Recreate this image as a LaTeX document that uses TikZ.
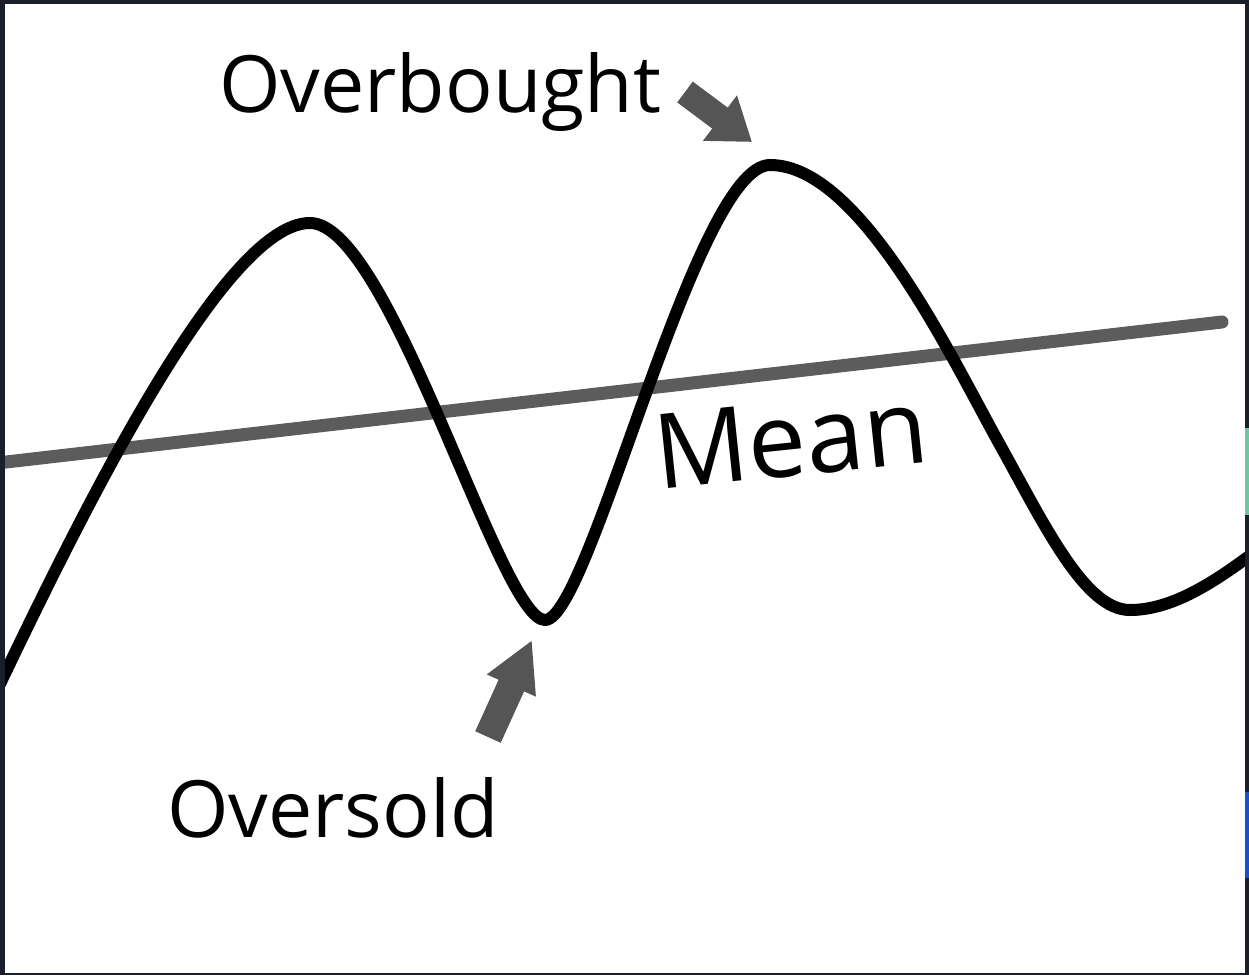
\documentclass[tikz,border=0pt]{standalone}
\usepackage{fontspec}
\setmainfont{Open Sans}
\usetikzlibrary{arrows.meta}
\definecolor{frameD}{RGB}{27,31,43}
\definecolor{meanG}{RGB}{92,92,92}
\definecolor{arrG}{RGB}{85,85,85}
\definecolor{tabG}{RGB}{112,200,160}
\definecolor{tabB}{RGB}{22,82,196}

\begin{document}
\begin{tikzpicture}[x=1pt,y=-1pt,
   lbl/.style={inner sep=0pt,anchor=base west,font=\fontsize{79}{90}\selectfont},
   wave/.style={line width=12pt,line join=round},
   meanl/.style={draw=meanG,line width=13pt,line cap=round},
   blk/.style={draw=arrG,fill=arrG}]
%% ---- frame ----
\fill[frameD] (0,0) rectangle (1249,975);
\useasboundingbox (0,0) rectangle (1249,975);
\fill[white] (5,4) rectangle (1245,973);
\fill[tabG] (1245,428) rectangle (1249,515);
\fill[tabB] (1245,792) rectangle (1249,878);
%% ---- mean line and price curve ----
\begin{scope}
  \clip (5,4) rectangle (1245,973);
  \draw[meanl] (-20,465) -- (1222,322);
  \draw[wave] (-10,705)
    .. controls (85,505) and (225,223) .. (310,223)      % first peak
    .. controls (390,223) and (500,620) .. (545,620)     % oversold trough
    .. controls (590,620) and (695,165) .. (770,165)     % overbought peak
    .. controls (860,165) and (950,355) .. (1000,445)
    .. controls (1045,526) and (1085,610) .. (1130,610)  % second trough
    .. controls (1175,610) and (1220,578) .. (1260,548);
\end{scope}
%% ---- labels ----
\node[lbl] (ob) at (219,112) {Overbought};
\node[lbl] (os) at (167,837) {Oversold};
\node[lbl,rotate=6,font=\fontsize{104}{110}\selectfont] (mn) at (658,490) {Mean};
%% ---- pointer arrows ----
\coordinate (obtail) at (685,92);
\coordinate (obtip) at (752,142);
\coordinate (ostail) at (488,737);
\coordinate (ostip) at (532,640);
\draw[blk,line width=26pt,-{Triangle[width=54pt,length=40pt]}] (obtail) -- (obtip);
\draw[blk,line width=28pt,-{Triangle[width=50pt,length=50pt]}] (ostail) -- (ostip);
\end{tikzpicture}
\end{document}
